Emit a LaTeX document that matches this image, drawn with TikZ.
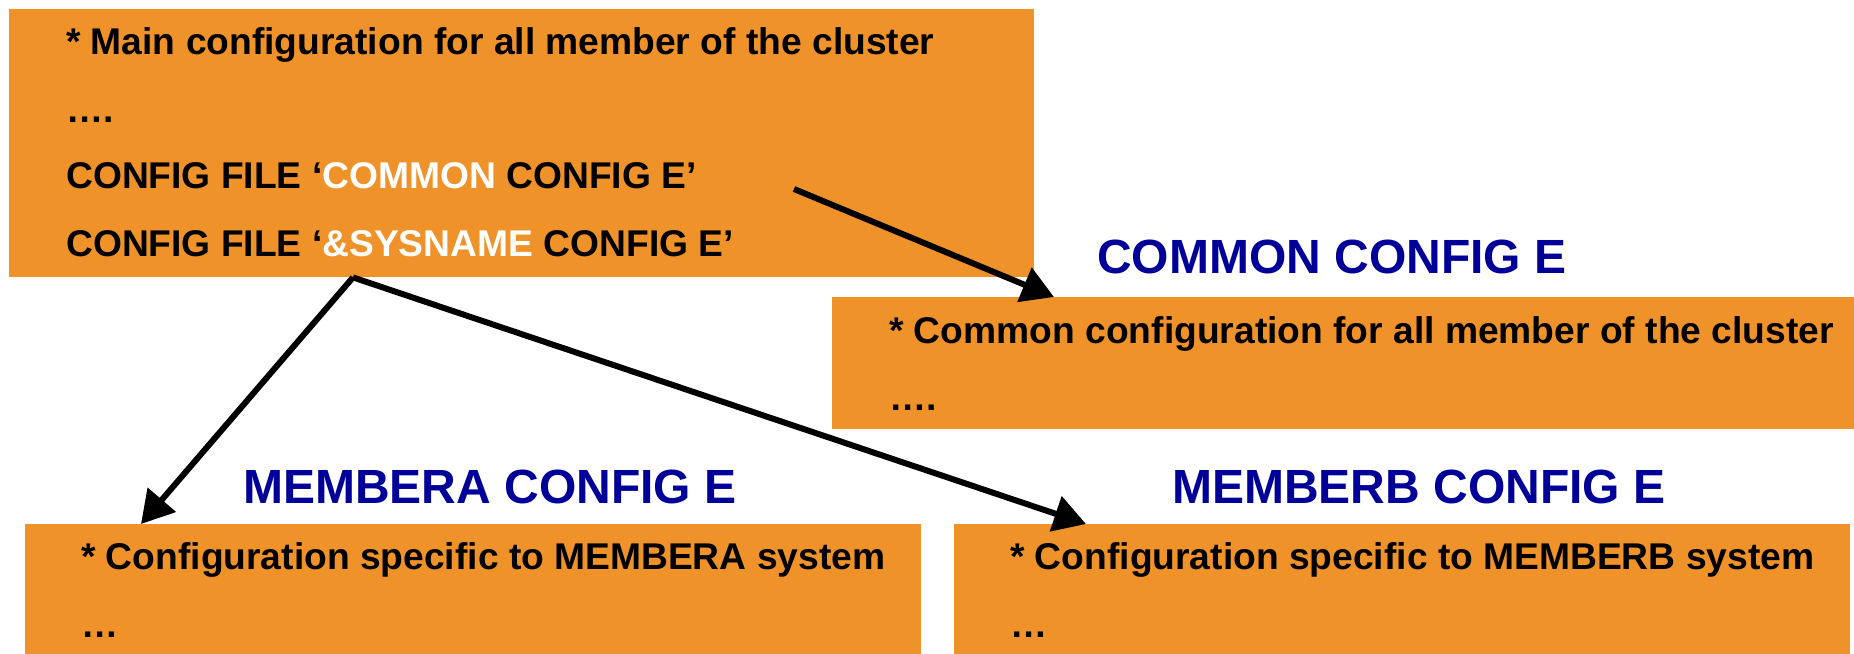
\documentclass[tikz,border=0pt]{standalone}
\usepackage{fontspec}
\setmainfont{Liberation Sans}
\usetikzlibrary{arrows.meta,calc}
\definecolor{boxorange}{RGB}{240,146,42}
\definecolor{titleblue}{RGB}{0,0,153}
\begin{document}
\begin{tikzpicture}[x=1pt,y=-1pt,
  box/.style={fill=boxorange,draw=none,rectangle,anchor=north west,inner sep=0pt},
  body/.style={anchor=base west,inner sep=0pt,font=\fontsize{37.2}{40}\selectfont\bfseries,text=black},
  title/.style={anchor=base west,inner sep=0pt,font=\fontsize{48}{52}\selectfont\bfseries,text=titleblue},
  arr/.style={line width=6pt,-{Triangle[length=32pt,width=36pt]}}]
\useasboundingbox (0,0) rectangle (1854,653);
% boxes
\node[box,minimum width=1025pt,minimum height=268pt] (main) at (9,9) {};
\node[box,minimum width=1022pt,minimum height=132pt] (common) at (832,297) {};
\node[box,minimum width=896pt,minimum height=135pt] (mema) at (25,524) {};
\node[box,minimum width=896pt,minimum height=135pt] (memb) at (954,524) {};
% main text
\node[body] (m1) at (66,54) {* Main configuration for all member of the cluster};
\node[body] (m2) at (66,122) {….};
\node[body] (m3) at (66,188) {CONFIG FILE ‘\textcolor{white}{COMMON} CONFIG E’};
\node[body] (m4) at (66,256) {CONFIG FILE ‘\textcolor{white}{\&SYSNAME} CONFIG E’};
% common
\node[title] (tc) at (1097,273) {COMMON CONFIG E};
\node[body] (c1) at (889,343) {* Common configuration for all member of the cluster};
\node[body] (c2) at (889,410) {….};
% member A
\node[title] (ta) at (243,503) {MEMBERA CONFIG E};
\node[body] (a1) at (81,569) {* Configuration specific to MEMBERA system};
\node[body] (a2) at (81,637) {…};
% member B
\node[title] (tb) at (1172,503) {MEMBERB CONFIG E};
\node[body] (b1) at (1010,569) {* Configuration specific to MEMBERB system};
\node[body] (b2) at (1010,637) {…};
% arrows
\coordinate (s1) at (794,189);
\coordinate (s2) at ($(main.south west)+(344,0)$);
\coordinate (t1) at ($(common.north west)+(222,0)$);
\coordinate (t2) at ($(mema.north west)+(116,0)$);
\coordinate (t3) at ($(memb.north west)+(132,0)$);
\draw[arr] (s1) -- (t1);
\draw[arr] (s2) -- (t2);
\draw[arr] (s2) -- (t3);
\end{tikzpicture}
\end{document}
